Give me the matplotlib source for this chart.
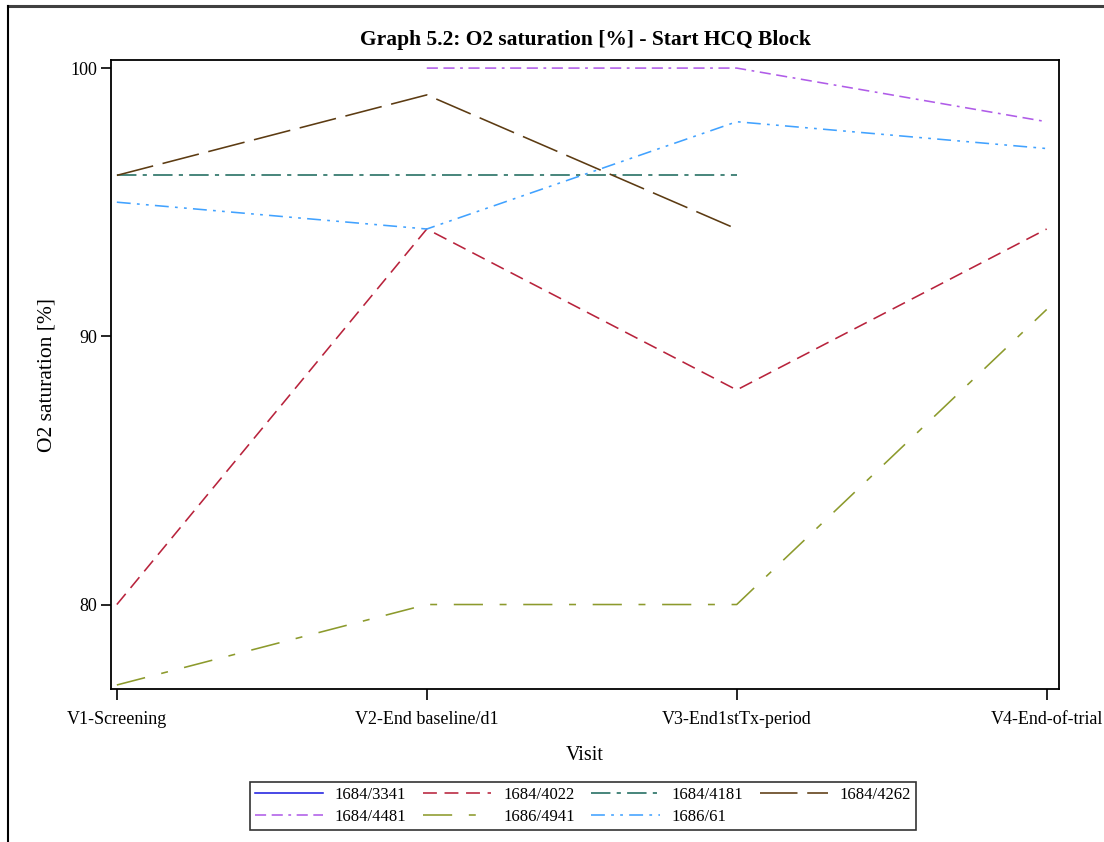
import numpy as np
import matplotlib
matplotlib.use("Agg")
import matplotlib.pyplot as plt
from matplotlib.lines import Line2D

plt.rcParams['font.family'] = ['Liberation Serif', 'DejaVu Serif']
plt.rcParams['lines.scale_dashes'] = False

visits = ["V1-Screening", "V2-End baseline/d1", "V3-End1stTx-period", "V4-End-of-trial"]
nan = np.nan

# O2 saturation per subject and visit (nan = not measured)
s_3341 = [96, nan, nan, nan]
s_4022 = [80, 94, 88, 94]
s_4181 = [96, 96, 96, nan]
s_4262 = [96, 99, 94, nan]
s_4481 = [nan, 100, 100, 98]
s_4941 = [77, 80, 80, 91]
s_61 = [95, 94, 98, 97]

subjects = ["1684/3341", "1684/4022", "1684/4181", "1684/4262",
            "1684/4481", "1686/4941", "1686/61"]
series = [s_3341, s_4022, s_4181, s_4262, s_4481, s_4941, s_61]
colors = ["#1f1fe0", "#b8233c", "#1e6b5e", "#5c3b12",
          "#b05ce8", "#8c9a2c", "#41a2ff"]
dashes = [
    None,
    (0, (10, 5.5)),
    (0, (14, 4.5, 3, 4.5)),
    (0, (27, 7)),
    (0, (8, 4, 8, 4, 2, 4)),
    (0, (21, 12, 5, 12)),
    (0, (10, 4.5, 2, 4.5, 2, 4.5)),
]

fig = plt.figure(figsize=(11.04, 8.42), dpi=100)
ax = fig.add_axes([0.1005, 0.1817, 0.8585, 0.7470])

x = np.arange(len(visits))
handles = []
for name, vals, c, d in zip(subjects, series, colors, dashes):
    ls = '-' if d is None else d
    ln, = ax.plot(x, vals, color=c, linestyle=ls, linewidth=1.15, label=name)
    handles.append(ln)

ax.set_xlim(-0.019, 3.039)
ax.set_ylim(76.85, 100.3)
ax.set_xticks(x)
ax.set_xticklabels(visits, fontsize=13)
ax.set_yticks([80, 90, 100])
ax.tick_params(axis='y', labelsize=13, length=7, width=1.2, pad=3)
ax.tick_params(axis='x', length=8, width=1.2, pad=8)
for sp in ax.spines.values():
    sp.set_linewidth(1.3)

ax.set_xlabel("Visit", fontsize=14.5, labelpad=13)
ax.set_ylabel("O2 saturation [%]", fontsize=15.5, labelpad=10)
fig.text(0.53, 0.953, "Graph 5.2: O2 saturation [%] - Start HCQ Block",
         ha='center', va='center', fontsize=15.5, fontweight='bold')

# legend filled row by row
order = [0, 4, 1, 5, 2, 6, 3]
leg = fig.legend([handles[i] for i in order], [subjects[i] for i in order],
                 ncol=4, loc='center', bbox_to_anchor=(0.528, 0.0425),
                 fontsize=12, frameon=True, fancybox=False, edgecolor='black',
                 handlelength=4.1, handletextpad=0.7, columnspacing=1.0,
                 borderpad=0.3, labelspacing=0.35)
leg.get_frame().set_linewidth(1.2)

# page border
fig.add_artist(Line2D([0.007, 1.0], [0.9925, 0.9925], color='#404040', linewidth=2.2))
fig.add_artist(Line2D([0.0075, 0.0075], [0.0, 0.9925], color='black', linewidth=1.5))

fig.savefig("out.png", dpi=100)
